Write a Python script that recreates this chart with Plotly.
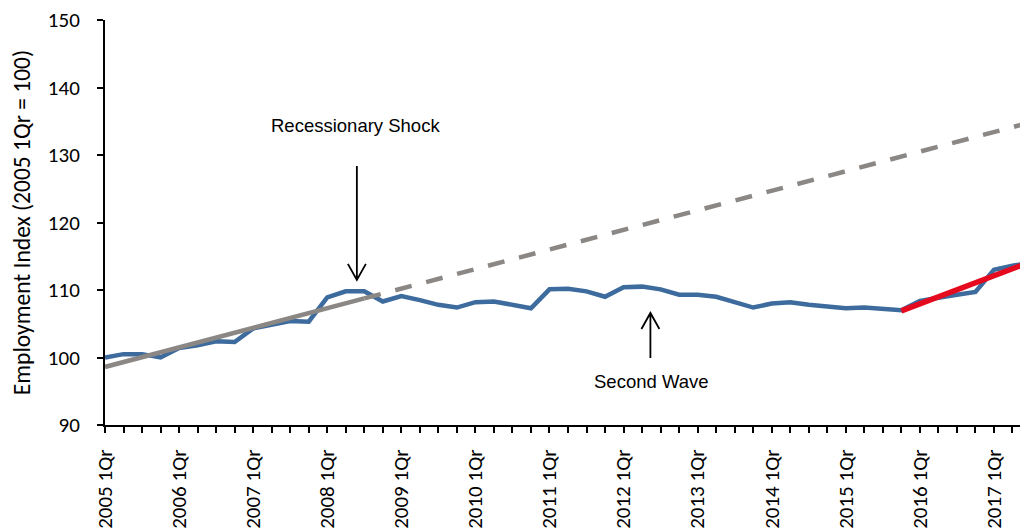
import plotly.graph_objects as go

years = list(range(2005, 2018))
quarter_suffix = ["1Qr", "2Qr", "3Qr", "4Qr"]
quarters = [f"{y} {q}" for y in years for q in quarter_suffix][:51]

employment = [100.0, 100.5, 100.5, 100.0, 101.4, 101.8, 102.4, 102.3,
              104.3, 104.8, 105.4, 105.3, 108.9, 109.8, 109.8, 108.3,
              109.1, 108.5, 107.8, 107.4, 108.2, 108.3, 107.8, 107.3,
              110.1, 110.2, 109.8, 109.0, 110.4, 110.5, 110.1, 109.3,
              109.3, 109.0, 108.2, 107.4, 108.0, 108.2, 107.8, 107.6,
              107.3, 107.4, 107.2, 107.0, 108.4, 108.9, 109.3, 109.7,
              113.0, 113.6, 114.0]

trend_solid_x = ["2005 1Qr", "2008 3Qr"]
trend_solid_y = [98.6, 108.75]
trend_dash_x = ["2008 3Qr", "2017 3Qr"]
trend_dash_y = [108.75, 134.85]
recovery_x = ["2015 4Qr", "2017 3Qr"]
recovery_y = [106.9, 114.2]

tick_labels = [q if q.endswith("1Qr") else "" for q in quarters]

TICKFONT = dict(family="Carlito, Lato, sans-serif", size=21, color="black")
TITLEFONT = dict(family="Carlito, Lato, sans-serif", size=23.5, color="black")
ANNFONT = dict(family="Liberation Sans, Arial, sans-serif", size=18.5, color="black")

fig = go.Figure()
fig.add_trace(go.Scatter(x=quarters, y=employment, mode="lines",
                         line=dict(color="#3D6B9E", width=4.5)))
fig.add_trace(go.Scatter(x=trend_solid_x, y=trend_solid_y, mode="lines",
                         line=dict(color="#8A8784", width=4.5)))
fig.add_trace(go.Scatter(x=trend_dash_x, y=trend_dash_y, mode="lines",
                         line=dict(color="#8A8784", width=4.5, dash="17px,15px")))
fig.add_trace(go.Scatter(x=recovery_x, y=recovery_y, mode="lines",
                         line=dict(color="#E60A1E", width=5.5)))

fig.add_annotation(x=13.5, y=134.3, text="Recessionary Shock", showarrow=False,
                   font=ANNFONT, xref="x", yref="y")
fig.add_annotation(x=29.5, y=96.4, text="Second Wave", showarrow=False,
                   font=ANNFONT, xref="x", yref="y")

# arrows drawn in pixel units, anchored at their heads
fig.add_shape(type="path", xref="x", yref="y", xsizemode="pixel", ysizemode="pixel",
              xanchor=13.6, yanchor=111.5,
              path="M0,0 L0,114 M-9,16 L0,0 L9,16",
              line=dict(color="black", width=1.8))
fig.add_shape(type="path", xref="x", yref="y", xsizemode="pixel", ysizemode="pixel",
              xanchor=29.45, yanchor=106.6,
              path="M0,0 L0,-45 M-9,-16 L0,0 L9,-16",
              line=dict(color="black", width=1.8))

# page body has an 8px margin; margins compensate so the plot area sits at 105..1036 x 20..425
fig.update_layout(
    width=1028, height=532,
    margin=dict(l=97, r=0, t=12, b=115),
    plot_bgcolor="white", paper_bgcolor="white",
    showlegend=False,
)
fig.update_xaxes(type="category", categoryorder="array", categoryarray=quarters,
                 range=[0, 50.27], tickmode="array", tickvals=quarters,
                 ticktext=tick_labels, tickangle=-90, ticks="outside",
                 ticklen=6, tickwidth=1.5, tickcolor="black",
                 showline=True, linecolor="black", linewidth=2,
                 showgrid=False, zeroline=False, tickfont=TICKFONT,
                 automargin=False, ticklabelstandoff=8, ticklabeloverflow="allow")
fig.update_yaxes(range=[90, 150], tickvals=[90, 100, 110, 120, 130, 140, 150],
                 ticks="outside", ticklen=6, tickwidth=1.5, tickcolor="black",
                 showline=True, linecolor="black", linewidth=2,
                 showgrid=False, zeroline=False, tickfont=TICKFONT,
                 automargin=False, ticklabelstandoff=13, ticklabeloverflow="allow",
                 title=dict(text="Employment Index (2005 1Qr = 100)",
                            font=TITLEFONT, standoff=19))

fig.write_html("out.html")
